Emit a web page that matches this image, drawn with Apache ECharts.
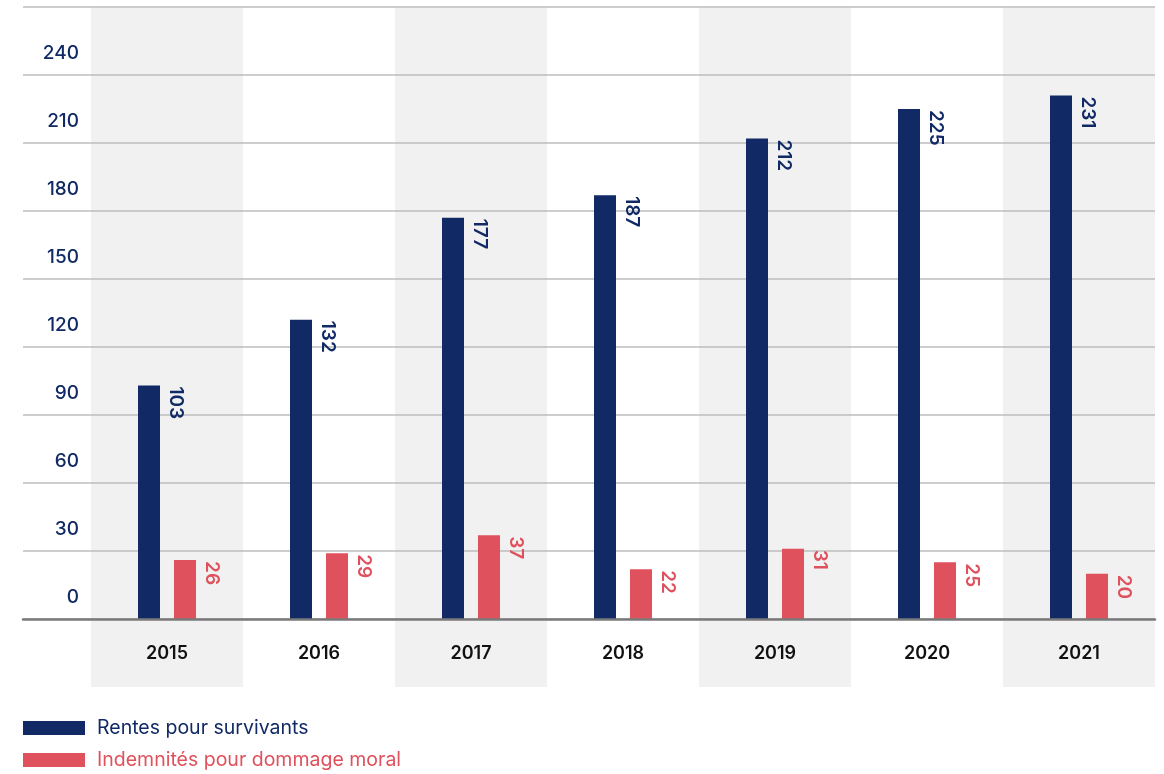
<!DOCTYPE html>
<html>
<head>
<meta charset="utf-8">
<script src="https://cdn.jsdelivr.net/npm/echarts@6/dist/echarts.min.js"></script>
<style>
  html, body { margin: 0; padding: 0; background: #ffffff; }
  #chart { width: 1164px; height: 774px; }
</style>
</head>
<body>
<div id="chart"></div>
<script>
const years = ['2015', '2016', '2017', '2018', '2019', '2020', '2021'];
const rentes = [103, 132, 177, 187, 212, 225, 231];
const indemnites = [26, 29, 37, 22, 31, 25, 20];
const seriesNames = ['Rentes pour survivants', 'Indemnités pour dommage moral'];

const NAVY = '#112a66';
const RED = '#df515d';
const FONT = 'Inter, "Noto Sans", sans-serif';

const chart = echarts.init(document.getElementById('chart'), null, { renderer: 'canvas' });

function labelFor(color) {
  return {
    show: true,
    position: [38, 1],
    rotate: -90,
    align: 'left',
    verticalAlign: 'middle',
    color: color,
    fontFamily: FONT,
    fontSize: 19,
    fontWeight: 600
  };
}

chart.setOption({
  animation: false,
  backgroundColor: '#ffffff',
  grid: [
    { left: 91, right: 9, top: 7, bottom: 87, outerBoundsMode: 'none', containLabel: false },
    { left: 23, right: 9, top: 7, bottom: 155, outerBoundsMode: 'none', containLabel: false }
  ],
  xAxis: [
    {
      type: 'category',
      gridIndex: 0,
      data: years,
      z: 0,
      position: 'bottom',
      axisLine: { show: false, onZero: false },
      axisTick: { show: false },
      splitLine: { show: false },
      splitArea: { show: true, areaStyle: { color: ['#f1f1f1', 'rgba(255,255,255,0)'] } },
      axisLabel: {
        margin: -42,
        color: '#111111',
        fontFamily: FONT,
        fontSize: 18,
        fontWeight: 600
      }
    },
    {
      type: 'category',
      gridIndex: 1,
      data: years,
      z: 5,
      axisLine: { show: true, lineStyle: { color: '#7a7a7a', width: 2.5 } },
      axisTick: { show: false },
      axisLabel: { show: false },
      splitLine: { show: false }
    }
  ],
  yAxis: [
    {
      type: 'value',
      gridIndex: 0,
      min: -30,
      max: 270,
      interval: 30,
      show: false,
      splitLine: { show: false }
    },
    {
      type: 'value',
      gridIndex: 1,
      min: 0,
      max: 270,
      interval: 30,
      z: 1,
      axisLine: { show: false },
      axisTick: { show: false },
      splitLine: { show: true, lineStyle: { color: '#bdbdbd', width: 1.5 } },
      axisLabel: {
        inside: true,
        margin: 56,
        align: 'right',
        verticalAlign: 'bottom',
        lineHeight: 20,
        padding: [0, 0, 12, 0],
        color: NAVY,
        fontFamily: FONT,
        fontSize: 19,
        fontWeight: 500,
        formatter: function (v) { return v >= 270 ? '' : String(v); }
      }
    }
  ],
  legend: {
    orient: 'vertical',
    left: 23,
    top: 718,
    padding: 0,
    itemWidth: 62,
    itemHeight: 14,
    itemGap: 12,
    icon: 'rect',
    textStyle: { fontFamily: FONT, fontSize: 19.5, fontWeight: 400, padding: [0, 0, 0, 7] },
    data: [
      { name: seriesNames[0], textStyle: { color: NAVY } },
      { name: seriesNames[1], textStyle: { color: RED } }
    ]
  },
  series: [
    {
      name: seriesNames[0],
      type: 'bar',
      xAxisIndex: 0,
      yAxisIndex: 0,
      data: rentes,
      barWidth: 22,
      barGap: '63.6%',
      z: 3,
      itemStyle: { color: NAVY },
      label: labelFor(NAVY)
    },
    {
      name: seriesNames[1],
      type: 'bar',
      xAxisIndex: 0,
      yAxisIndex: 0,
      data: indemnites,
      barWidth: 22,
      barGap: '63.6%',
      z: 3,
      itemStyle: { color: RED },
      label: labelFor(RED)
    }
  ]
});
</script>
</body>
</html>
